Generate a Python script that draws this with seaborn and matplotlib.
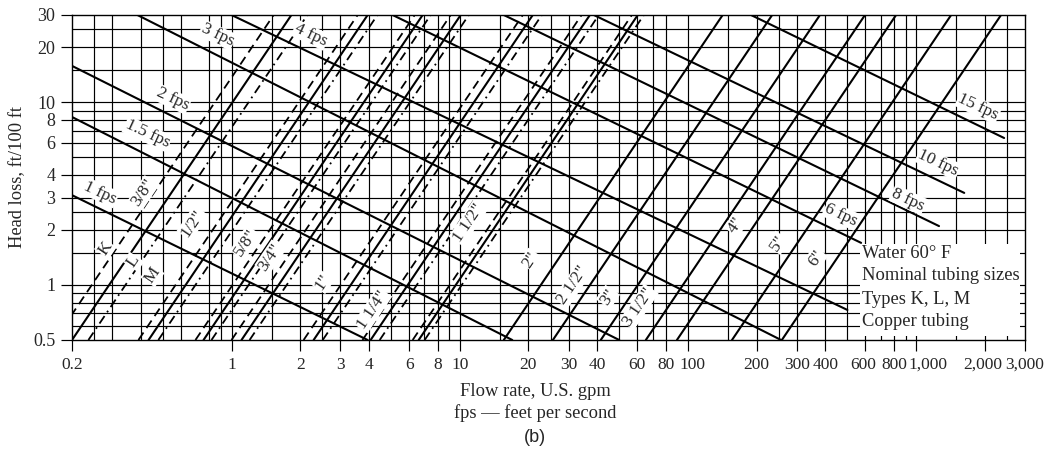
import matplotlib
matplotlib.use("Agg")
import matplotlib.pyplot as plt
import matplotlib.transforms as mtransforms
from matplotlib.patches import Rectangle
import seaborn as sns
import numpy as np

# ---------------- data ----------------
# velocity lines: (Q start, h start) -> (Q end, h end)
vel_names = ["1 fps", "1.5 fps", "2 fps", "3 fps", "4 fps", "6 fps", "8 fps", "10 fps", "15 fps"]
vel_q0 = [0.2, 0.2, 0.2, 0.387, 1.0, 5.08, 15.6, 38.7, 189]
vel_h0 = [3.1, 8.3, 15.8, 30, 30, 30, 30, 30, 30]
vel_q1 = [3.95, 17.0, 50.0, 256, 500, 574, 1260, 1625, 2430]
vel_h1 = [0.5, 0.5, 0.5, 0.5, 0.73, 1.7, 2.1, 3.19, 6.37]
vel_lab_q = [0.266, 0.428, 0.551, 0.868, 2.22, 469, 923, 1250, 1870]
vel_lab_h = [3.2, 6.7, 10.4, 23.3, 23.3, 2.41, 2.92, 4.65, 9.4]

# small tubing: K (dashed), L (solid), M (dash-dot); Q where each line meets h=0.5 and h=30
small_sizes = ['3/8"', '1/2"', '5/8"', '3/4"', '1"', '1 1/4"', '1 1/2"']
K_q_bot = [0.168, 0.391, 0.695, 1.00, 2.07, 3.75, 6.22]
K_q_top = [1.53, 3.57, 6.35, 9.13, 18.9, 34.2, 56.8]
L_q_bot = [0.200, 0.433, 0.754, 1.106, 2.29, 4.07, 6.61]
L_q_top = [1.83, 3.95, 6.88, 10.1, 20.9, 37.2, 60.3]
M_q_bot = [0.236, 0.478, 0.817, 1.20, 2.51, 4.46, 7.02]
M_q_top = [2.15, 4.36, 7.46, 10.96, 22.9, 40.7, 64.1]

# large tubing (single solid line)
big_sizes = ['2"', '2 1/2"', '3"', '3 1/2"', '4"', '5"', '6"']
big_q_bot = [15.6, 25.6, 41.5, 65.4, 89.5, 156, 258]
big_q_top = [142, 234, 379, 597, 817, 1424, 2356]

# size labels positions
size_labels = ['3/8"', 'K', 'L', 'M', '1/2"', '5/8"', '3/4"', '1"', '1 1/4"', '1 1/2"',
               '2"', '2 1/2"', '3"', '3 1/2"', '4"', '5"', '6"']
size_lab_q = [0.411, 0.28, 0.372, 0.45, 0.675, 1.15, 1.48, 2.51, 4.15, 10.9,
              20.5, 31.3, 44.6, 61, 162, 248, 364]
size_lab_h = [3.19, 1.59, 1.34, 1.13, 2.18, 1.70, 1.42, 1.04, 0.73, 2.18,
              1.37, 1.0, 0.86, 0.76, 2.13, 1.7, 1.4]

# grid and ticks
x_grid = [0.25, 0.3, 0.4, 0.5, 0.6, 0.8, 0.9, 1, 1.5, 2, 2.5, 3, 4, 5, 6, 7, 8, 9, 10,
          15, 20, 25, 30, 40, 50, 60, 70, 80, 100, 150, 200, 250, 300, 400, 500, 600,
          700, 800, 900, 1000, 1500, 2000, 2500]
y_grid = [0.6, 0.7, 0.8, 0.9, 1, 1.5, 2, 2.5, 3, 4, 5, 6, 7, 8, 9, 10, 15, 20, 25]
x_ticks = [0.2, 1, 2, 3, 4, 6, 8, 10, 20, 30, 40, 60, 80, 100, 200, 300, 400, 600, 800, 1000, 2000, 3000]
x_ticklabels = ["0.2", "1", "2", "3", "4", "6", "8", "10", "20", "30", "40", "60", "80", "100",
                "200", "300", "400", "600", "800", "1,000", "2,000", "3,000"]
y_ticks = [0.5, 1, 2, 3, 4, 6, 8, 10, 20, 30]
y_ticklabels = ["0.5", "1", "2", "3", "4", "6", "8", "10", "20", "30"]

notes = ["Water 60\u00b0 F", "Nominal tubing sizes", "Types K, L, M", "Copper tubing"]

# ---------------- drawing ----------------
sns.set_style("ticks")
plt.rcParams["font.family"] = ["Liberation Serif", "DejaVu Serif"]

W, H = 1057, 453
fig = plt.figure(figsize=(W / 100, H / 100), dpi=100)
ax = fig.add_axes([72 / W, 1 - 340 / H, (1025 - 72) / W, (340 - 15) / H])
ax.set_xscale("log")
ax.set_yscale("log")
ax.set_xlim(0.2, 3000)
ax.set_ylim(0.5, 30)

for g in x_grid:
    ax.axvline(g, color="black", lw=0.85, zorder=1)
for g in y_grid:
    ax.axhline(g, color="black", lw=0.85, zorder=1)

# white panel behind the notes block
ax.add_patch(Rectangle(((860 - 72) / 953, 4 / 325), (1020 - 860) / 953, (336 - 244) / 325,
                       transform=ax.transAxes, facecolor="white", edgecolor="none", zorder=2))

LW = 1.5
for i in range(len(vel_names)):
    sns.lineplot(x=[vel_q0[i], vel_q1[i]], y=[vel_h0[i], vel_h1[i]], ax=ax, color="black",
                 lw=LW, sort=False, estimator=None, zorder=3)

for i in range(len(small_sizes)):
    sns.lineplot(x=[K_q_bot[i], K_q_top[i]], y=[0.5, 30], ax=ax, color="black", lw=1.3,
                 sort=False, estimator=None, zorder=3, dashes=False, linestyle=(0, (5, 3)))
    sns.lineplot(x=[L_q_bot[i], L_q_top[i]], y=[0.5, 30], ax=ax, color="black", lw=LW,
                 sort=False, estimator=None, zorder=3)
    sns.lineplot(x=[M_q_bot[i], M_q_top[i]], y=[0.5, 30], ax=ax, color="black", lw=1.3,
                 sort=False, estimator=None, zorder=3, dashes=False, linestyle=(0, (5, 2.5, 1, 2.5)))

for i in range(len(big_sizes)):
    sns.lineplot(x=[big_q_bot[i], big_q_top[i]], y=[0.5, 30], ax=ax, color="black", lw=LW,
                 sort=False, estimator=None, zorder=3)

bb = dict(facecolor="white", edgecolor="none", pad=0.6)
for i, s in enumerate(vel_names):
    ax.text(vel_lab_q[i], vel_lab_h[i], s, rotation=-25, ha="center", va="center",
            rotation_mode="anchor", fontsize=12.5, bbox=bb, zorder=5)
for i, s in enumerate(size_labels):
    ax.text(size_lab_q[i], size_lab_h[i], s, rotation=56, ha="center", va="center",
            rotation_mode="anchor", fontsize=12.5, bbox=bb, zorder=5)

for i, s in enumerate(notes):
    fig.text(862 / W, 1 - (253 + 23 * i) / H, s, ha="left", va="center", fontsize=13.3, zorder=6)

ax.set_xticks(x_ticks)
ax.set_xticklabels(x_ticklabels)
ax.set_yticks(y_ticks)
ax.set_yticklabels(y_ticklabels)
ax.minorticks_off()
ax.tick_params(axis="both", direction="out", length=8, width=0.85, pad=4, color="black")
ax.tick_params(axis="x", labelsize=12.5)
ax.tick_params(axis="y", labelsize=13)
for sp in ax.spines.values():
    sp.set_color("black")
    sp.set_linewidth(1.0)

# small horizontal nudges of crowded tick labels, as in the reference
shift_px = {"100": 5, "600": -2, "1,000": 12, "2,000": -2}
for lab in ax.get_xticklabels():
    dx = shift_px.get(lab.get_text(), 0)
    if dx:
        lab.set_transform(lab.get_transform() + mtransforms.ScaledTranslation(dx / 100, 0, fig.dpi_scale_trans))

ax.set_ylabel("Head loss, ft/100 ft", fontsize=13.3, labelpad=5)
ax.set_xlabel("")
fig.text(535 / W, 1 - 392 / H, "Flow rate, U.S. gpm", ha="center", va="center", fontsize=13.3)
fig.text(535 / W, 1 - 413 / H, "fps \u2014 feet per second", ha="center", va="center", fontsize=13.3)
fig.text(535 / W, 1 - 437 / H, "(b)", ha="center", va="center", fontsize=13,
         family=["Liberation Sans", "DejaVu Sans"])

fig.savefig("out.png", dpi=100)
